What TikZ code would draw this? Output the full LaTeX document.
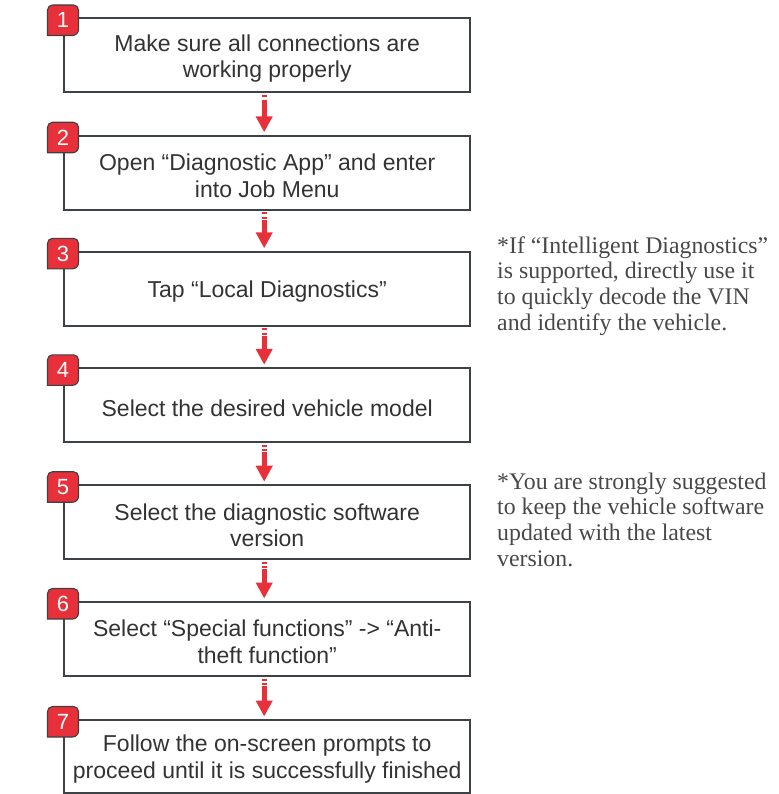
\documentclass[tikz,border=0pt]{standalone}
\usepackage{fontspec}
\setmainfont{Liberation Serif}
\setsansfont{Liberation Sans}
\usetikzlibrary{arrows.meta,calc}
\definecolor{stepred}{HTML}{E8303A}
\definecolor{boxline}{HTML}{3D4247}
\definecolor{boxtext}{HTML}{333333}
\definecolor{notetext}{HTML}{484848}
\tikzset{
  stepbox/.style={draw=boxline, line width=2pt, fill=white, minimum width=406pt, minimum height=74pt,
    inner sep=0pt},
  steptext/.style={align=center, text=boxtext, inner sep=0pt, font=\sffamily\fontsize{23}{26.5}\selectfont},
  badgeshape/.style={fill=stepred, draw=black!75, line width=1.1pt},
  badgenum/.style={text=white, font=\sffamily\fontsize{22}{22}\selectfont, inner sep=0pt},
  flowarrow/.style={draw=stepred, line width=4.8pt, dash pattern=on 2pt off 2.6pt on 2pt off 0.8pt on 60pt,
    -{Triangle[width=16pt,length=16pt]}, shorten >=0pt},
  notestyle/.style={align=left, text=notetext, inner sep=0pt, font=\rmfamily\fontsize{23.8}{25.8}\selectfont}
}
\begin{document}
\begin{tikzpicture}[x=1pt,y=1pt]
\useasboundingbox (0,0) rectangle (778,-794);
% boxes: top, height, text
\foreach \i/\t/\h/\txt in {
  1/18.5/74/{Make sure all connections are\\working properly},
  2/135.8/74/{Open “Diagnostic App” and enter\\into Job Menu},
  3/251.8/74/{Tap “Local Diagnostics”},
  4/368.3/74/{Select the desired vehicle model},
  5/485.2/74/{Select the diagnostic software\\version},
  6/602/74/{Select “Special functions” -> “Anti-\\theft function”},
  7/720/72.5/{Follow the on-screen prompts to\\proceed until it is successfully finished}}
{
  \node[stepbox, minimum height=\h pt] (box\i) at (267.2,{-\t-\h/2}) {};
  \node[steptext] (txt\i) at ($(box\i.center)+(0,-3)$) {\txt};
  \pgfmathsetmacro{\T}{-\t+13.5}
  \pgfmathsetmacro{\B}{-\t-17}
  \filldraw[badgeshape] (47.5,\B) -- (47.5,\T-5) arc[start angle=180,end angle=90,radius=5]
     -- (73.5,\T) arc[start angle=90,end angle=0,radius=5]
     -- (78.5,\B+6) arc[start angle=0,end angle=-90,radius=6] -- cycle;
  \node[badgenum] (num\i) at (63,{(\T+\B)/2}) {\i};
}
% arrows
\foreach \i/\j in {1/2,2/3,3/4,4/5,5/6,6/7}{
  \draw[flowarrow] ($(box\i.south)+(-3,-1.5)$) -- ($(box\j.north)+(-3,2.5)$);
}
% notes (base anchor = baseline of last line)
\node[notestyle, anchor=base west] (note1) at (497,-330.4)
  {*If “Intelligent Diagnostics”\\is supported, directly use it\\to quickly decode the VIN\\and identify the vehicle.};
\node[notestyle, anchor=base west] (note2) at (497,-566.4)
  {*You are strongly suggested\\to keep the vehicle software\\updated with the latest\\version.};
\end{tikzpicture}
\end{document}
